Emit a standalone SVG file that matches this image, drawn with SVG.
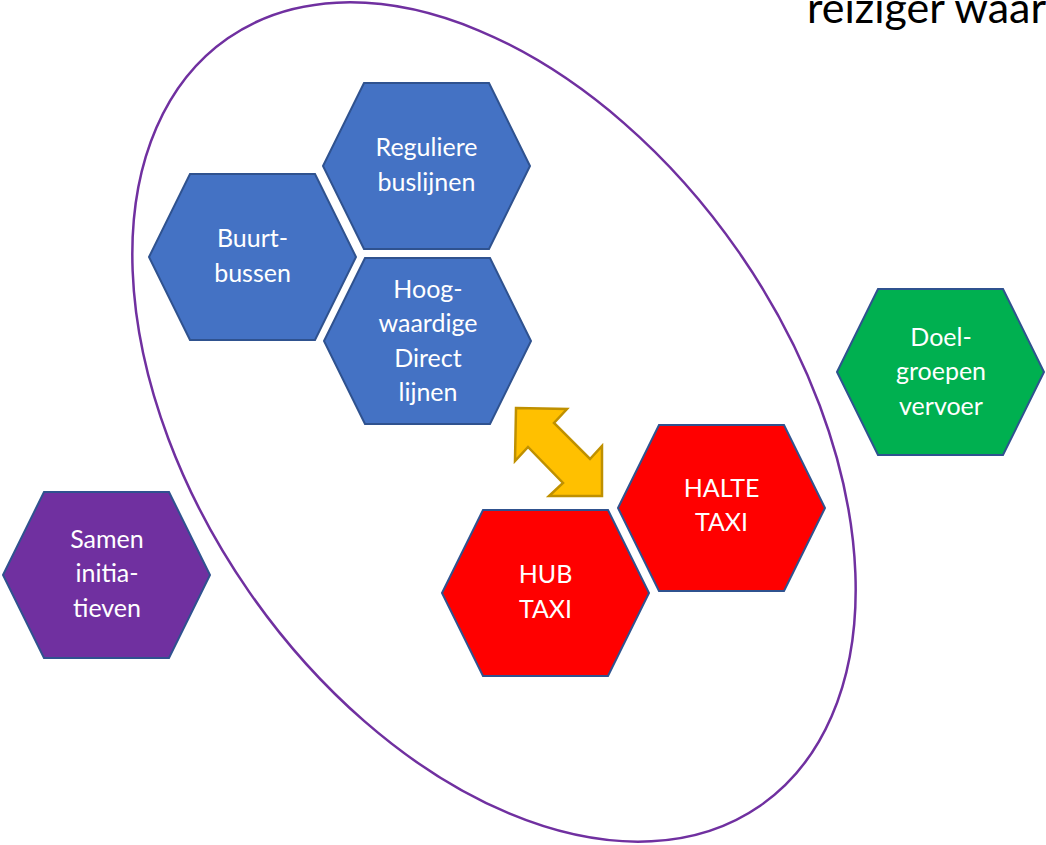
<svg xmlns="http://www.w3.org/2000/svg" width="1046" height="845" viewBox="0 0 1046 845">
  <style>
    .hex { stroke: #2F528F; stroke-width: 2; }
    .blue { fill: #4472C4; }
    .red { fill: #FF0000; }
    .green { fill: #00B050; }
    .purple { fill: #7030A0; }
    .lbl { font-family: Lato, "Open Sans", "Liberation Sans", sans-serif; font-size: 25px; fill: #FFFFFF; text-anchor: middle; }
    .title { font-family: Lato, "Open Sans", "Liberation Sans", sans-serif; font-size: 43px; fill: #000000; }
  </style>
  <defs>
    <polygon id="hexshape" points="0,83 41,0 166,0 207,83 166,166 41,166"/>
  </defs>
  <rect x="0" y="0" width="1046" height="845" fill="#FFFFFF"/>
  <text class="title" x="807" y="23">reiziger waar</text>
  <ellipse cx="494" cy="422" rx="467" ry="298" transform="rotate(55.25 494 422)" fill="none" stroke="#7030A0" stroke-width="2.5"/>

  <g id="node-reguliere">
    <use href="#hexshape" x="323" y="83" class="hex blue"/>
    <text class="lbl" x="426.5" y="156">Reguliere</text>
    <text class="lbl" x="426.5" y="190.5">buslijnen</text>
  </g>
  <g id="node-buurtbussen">
    <use href="#hexshape" x="149" y="174" class="hex blue"/>
    <text class="lbl" x="252.5" y="247">Buurt-</text>
    <text class="lbl" x="252.5" y="282">bussen</text>
  </g>
  <g id="node-hoogwaardige">
    <use href="#hexshape" x="324" y="258" class="hex blue"/>
    <text class="lbl" x="428" y="298">Hoog-</text>
    <text class="lbl" x="428" y="332">waardige</text>
    <text class="lbl" x="428" y="366.5">Direct</text>
    <text class="lbl" x="428" y="400.5">lijnen</text>
  </g>
  <g id="node-samen">
    <use href="#hexshape" x="3" y="492" class="hex purple"/>
    <text class="lbl" x="107" y="548">Samen</text>
    <text class="lbl" x="107" y="582">initia-</text>
    <text class="lbl" x="107" y="616.5">tieven</text>
  </g>
  <g id="node-doelgroepen">
    <use href="#hexshape" x="837" y="289" class="hex green"/>
    <text class="lbl" x="941" y="345.5">Doel-</text>
    <text class="lbl" x="941" y="380">groepen</text>
    <text class="lbl" x="941" y="414.5">vervoer</text>
  </g>
  <g id="node-halte-taxi">
    <use href="#hexshape" x="618" y="425" class="hex red"/>
    <text class="lbl" x="721.5" y="497">HALTE</text>
    <text class="lbl" x="721.5" y="531">TAXI</text>
  </g>
  <g id="node-hub-taxi">
    <use href="#hexshape" x="442" y="510" class="hex red"/>
    <text class="lbl" x="545.5" y="583">HUB</text>
    <text class="lbl" x="545.5" y="617.5">TAXI</text>
  </g>

  <g id="connectors">
    <polygon points="516,408 567,409 554,423 590,459 602,446 602,496 549,496 563,483 528,447 515,461" fill="#FFC000" stroke="#BF9000" stroke-width="2.5" stroke-linejoin="miter"/>
  </g>
</svg>
